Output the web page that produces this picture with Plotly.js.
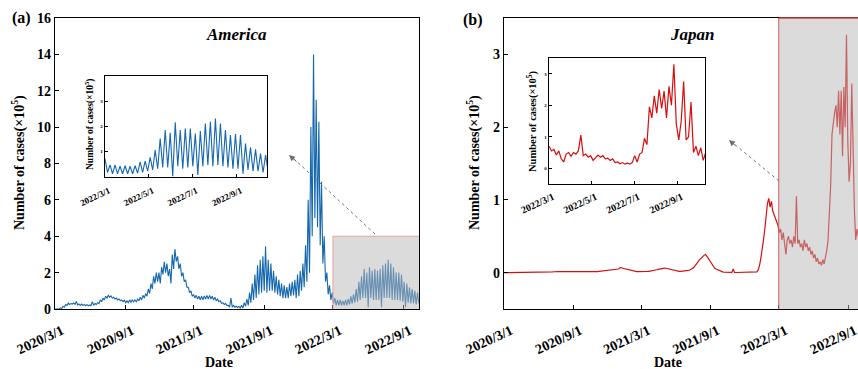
<!DOCTYPE html>
<html>
<head>
<meta charset="utf-8">
<script src="https://cdn.plot.ly/plotly-3.0.1.min.js"></script>
<style>html,body{margin:0;padding:0;background:#fff;}#chart{width:858px;height:369px;}</style>
</head>
<body>
<div id="chart"></div>
<script>
// ---------------- DATA (values in units of 10^5 cases) ----------------
const STEP_DAYS = 3.5;
const americaStart = '2020-03-01';
const americaValues = [
0,0, 0.01,0, 0.05,0.03, 0.15,0.1, 0.25,0.2, 0.32,0.25, 0.3,0.27, 0.33,0.25,
0.42,0.22, 0.28,0.2, 0.27,0.2, 0.25,0.18, 0.24,0.18, 0.22,0.18, 0.4,0.2, 0.3,0.25,
0.35,0.3, 0.5,0.4, 0.6,0.5, 0.7,0.6, 0.75,0.65, 0.72,0.6, 0.65,0.55, 0.6,0.5,
0.55,0.45, 0.5,0.4, 0.48,0.35, 0.45,0.35, 0.5,0.38, 0.5,0.4, 0.5,0.4, 0.55,0.45,
0.65,0.5, 0.75,0.6, 0.85,0.7, 1.1,0.85, 1.4,1.1, 1.8,1.4, 2.0,1.5, 2.0,1.4,
2.3,1.9, 2.6,2.0, 2.5,1.8, 2.2,1.4, 3.0,2.2, 3.3,2.6, 2.9,2.2, 2.5,1.8,
2.0,1.5, 1.6,1.2, 1.2,0.9, 1.0,0.7, 0.8,0.6, 0.75,0.55, 0.7,0.5, 0.7,0.5,
0.72,0.55, 0.75,0.55, 0.75,0.55, 0.7,0.5, 0.65,0.45, 0.55,0.4, 0.45,0.3, 0.35,0.25,
0.3,0.2, 0.2,0.1, 0.6,0.1, 0.2,0.1, 0.15,0.08, 0.15,0.05, 0.2,0.05, 0.35,0.15,
0.55,0.2, 0.9,0.35, 1.4,0.5, 1.9,0.6, 2.4,0.8, 2.7,0.9, 2.9,1.0, 3.45,0.9,
2.7,1.0, 2.5,1.0, 2.1,0.9, 1.8,0.8, 1.6,0.7, 1.4,0.6, 1.3,0.6, 1.2,0.6,
1.4,0.7, 1.5,0.75, 1.6,0.6, 1.9,0.7, 2.1,1.0, 2.5,1.2, 3.5,1.5, 6.0,2.0,
10.0,4.0, 14.0,5.0, 11.5,4.5, 10.3,3.5, 7.0,2.5, 4.0,1.5, 2.0,0.8, 1.3,0.5,
0.9,0.3, 0.6,0.2, 0.5,0.2, 0.5,0.2, 0.45,0.2, 0.5,0.2, 0.55,0.25, 0.7,0.3,
0.8,0.35, 1.1,0.4, 1.5,0.5, 1.8,0.6, 2.2,0.6, 2.0,0.1, 2.3,0.6, 2.1,0.5,
2.2,0.5, 2.1,0.5, 2.2,0.1, 2.4,0.6, 2.5,0.6, 2.7,0.6, 2.5,0.5, 2.3,0.5,
2.0,0.5, 2.0,0.45, 1.9,0.4, 1.5,0.1, 1.4,0.35, 1.2,0.3, 1.1,0.3, 1.0,0.25, 0.9,0.3
];
const americaInsetStart = '2022-03-01';
const americaInsetValues = [
0.7,0.15, 0.45,0.1, 0.45,0.1, 0.4,0.1, 0.42,0.1, 0.4,0.1, 0.42,0.12, 0.57,0.15,
0.6,0.2, 0.75,0.25, 1.04,0.3, 1.5,0.35, 1.84,0.35, 1.73,0.0, 2.15,0.4, 1.84,0.3,
1.9,0.35, 1.9,0.4, 1.7,0.05, 1.8,0.4, 2.1,0.45, 2.17,0.4, 2.3,0.45, 2.1,0.4,
1.84,0.35, 1.64,0.3, 1.68,0.3, 1.64,0.1, 1.3,0.25, 1.15,0.2, 1.07,0.2, 0.9,0.15,
0.84,0.2, 0.5
];
const japanStart = '2020-03-01';
const japanValues = [
0,0,0,0,0,0,0.004,0.005,
0.005,0.006,0.006,0.007,0.006,0.005,0.004,0.003,
0.002,0.001,0.001,0,0,0,0,0,
0,0,0,0,0.001,0.002,0.002,0.003,
0.003,0.004,0.005,0.006,0.008,0.01,0.012,0.015,
0.015,0.014,0.013,0.013,0.012,0.011,0.01,0.009,
0.009,0.008,0.008,0.007,0.006,0.006,0.006,0.006,
0.006,0.006,0.006,0.005,0.005,0.006,0.006,0.006,
0.007,0.007,0.008,0.008,0.009,0.01,0.012,0.015,
0.018,0.02,0.022,0.024,0.025,0.025,0.026,0.027,
0.028,0.03,0.033,0.035,0.038,0.04,0.045,0.05,
0.065,0.07,0.06,0.055,0.05,0.045,0.04,0.035,
0.03,0.025,0.02,0.018,0.016,0.014,0.013,0.012,
0.012,0.012,0.013,0.014,0.015,0.016,0.018,0.02,
0.024,0.028,0.032,0.036,0.04,0.045,0.05,0.053,
0.056,0.06,0.062,0.06,0.055,0.05,0.045,0.04,
0.035,0.03,0.025,0.022,0.02,0.018,0.017,0.018,
0.02,0.022,0.025,0.028,0.032,0.036,0.042,0.055,
0.07,0.09,0.11,0.14,0.17,0.19,0.2,0.22,
0.24,0.25,0.23,0.2,0.17,0.14,0.1,0.08,
0.06,0.05,0.04,0.03,0.02,0.015,0.01,0.008,
0.006,0.005,0.004,0.003,0.003,0.003,0.05,0.002,
0.002,0.002,0.001,0.001,0.001,0.001,0.001,0.001,
0.001,0.001,0.001,0.002,0.002,0.002,0.003,0.004,
0.01,0.04,0.1,0.2,0.3,0.45,0.6,0.8,
0.95,1.02,0.9,0.98,0.85,0.8,0.75,0.7,
0.65,0.55,0.6,0.45,0.55,0.4,0.25,0.45,
0.5,0.4,0.45,0.35,0.5,0.4,1.05,0.4,
0.45,0.35,0.4,0.3,0.45,0.35,0.4,0.3,
0.35,0.25,0.3,0.2,0.25,0.15,0.2,0.12,
0.15,0.1,0.18,0.12,0.2,0.3,0.45,0.75,
1.2,1.9,2.1,2.2,2.3,2.0,2.5,1.9,
2.5,1.6,2.55,2.0,3.27,1.8,1.25,1.5,
2.6,1.5,0.86,0.45,0.6,0.5
];
const japanInsetStart = '2022-03-01';
const japanInsetValues = [
0.7,0.55,0.6,0.42,0.55,0.3,0.2,0.45,
0.5,0.38,0.5,0.45,0.55,1.05,0.4,0.45,
0.35,0.4,0.25,0.35,0.42,0.35,0.4,0.3,
0.32,0.25,0.3,0.18,0.2,0.14,0.18,0.13,
0.16,0.13,0.18,0.4,0.2,0.45,0.5,0.95,
0.75,1.95,1.6,2.3,1.75,2.5,1.9,2.45,
1.6,2.6,2.0,3.3,1.4,0.9,1.5,2.75,
0.9,1.0,2.1,0.5,0.7,0.4,0.65,0.25,0.5
];
const mainTickDates = ['2020-03-01','2020-09-01','2021-03-01','2021-09-01','2022-03-01','2022-09-01'];
const mainTickLabels = ['2020/3/1','2020/9/1','2021/3/1','2021/9/1','2022/3/1','2022/9/1'];
const insetTickDates = ['2022-03-01','2022-05-01','2022-07-01','2022-09-01'];
const insetTickLabels = ['2022/3/1','2022/5/1','2022/7/1','2022/9/1'];
const zoomStart = '2022-03-01';

// ---------------- helpers ----------------
function datesFor(start, n, stepDays) {
  const t0 = Date.parse(start + 'T00:00:00Z');
  const out = [];
  for (let i = 0; i < n; i++) {
    out.push(new Date(t0 + i * stepDays * 86400000).toISOString().slice(0, 16).replace('T', ' '));
  }
  return out;
}
const W = 858, H = 369;
const px = v => v / W, py = v => 1 - v / H;

const FONT = '"Liberation Serif", "Times New Roman", serif';
const BLUE = 'rgb(22,104,174)';
const RED = 'rgb(214,14,14)';

const traces = [
  {x: datesFor(americaStart, americaValues.length, STEP_DAYS), y: americaValues, xaxis: 'x', yaxis: 'y',
   type: 'scatter', mode: 'lines', line: {color: BLUE, width: 1.1}, hoverinfo: 'skip'},
  {x: datesFor(americaInsetStart, americaInsetValues.length, STEP_DAYS), y: americaInsetValues, xaxis: 'x2', yaxis: 'y2',
   type: 'scatter', mode: 'lines', line: {color: BLUE, width: 1.1}, hoverinfo: 'skip'},
  {x: datesFor(japanStart, japanValues.length, STEP_DAYS), y: japanValues, xaxis: 'x3', yaxis: 'y3',
   type: 'scatter', mode: 'lines', line: {color: RED, width: 1.2}, hoverinfo: 'skip'},
  {x: datesFor(japanInsetStart, japanInsetValues.length, STEP_DAYS), y: japanInsetValues, xaxis: 'x4', yaxis: 'y4',
   type: 'scatter', mode: 'lines', line: {color: RED, width: 1.2}, hoverinfo: 'skip'}
];

const axBase = {showgrid: false, zeroline: false, showline: true, linecolor: '#000', linewidth: 1.3,
  ticks: 'inside', ticklen: 4, tickwidth: 1, tickcolor: '#000', ticklabeloverflow: 'allow'};
const mainTickFont = {family: FONT, size: 14, color: '#000', weight: 'bold'};
const insetXFontL = {family: FONT, size: 9, color: '#000', weight: 'bold'};
const insetXFontR = {family: FONT, size: 10, color: '#000', weight: 'bold'};
const insetYFont = {family: FONT, size: 5, color: '#000', weight: 'bold'};

const LEFT_END = '2022-10-13';
const RIGHT_END = '2022-09-27 14:00';

const layout = {
  width: W, height: H, margin: {l: 0, r: 0, t: 0, b: 0},
  paper_bgcolor: '#fff', plot_bgcolor: 'rgba(0,0,0,0)', showlegend: false,
  xaxis: Object.assign({}, axBase, {domain: [px(55), px(419)], anchor: 'y', type: 'date',
    range: ['2020-03-01', LEFT_END], tickvals: mainTickDates, ticktext: mainTickLabels,
    tickangle: -25, tickfont: mainTickFont, mirror: true, ticklabelstandoff: 7, ticklabelshift: 7}),
  yaxis: Object.assign({}, axBase, {domain: [py(309), py(18)], anchor: 'x', range: [0, 16],
    tickvals: [0,2,4,6,8,10,12,14,16], tickfont: mainTickFont, mirror: true}),
  xaxis2: Object.assign({}, axBase, {domain: [px(105), px(267)], anchor: 'y2', type: 'date',
    range: ['2022-03-01', LEFT_END], tickvals: insetTickDates, ticktext: insetTickLabels,
    tickangle: -25, tickfont: insetXFontL, mirror: true, ticklen: 3, ticklabelstandoff: 4, ticklabelshift: 4}),
  yaxis2: Object.assign({}, axBase, {domain: [py(177), py(76)], anchor: 'x2', range: [-0.03, 4],
    tickvals: [1,2,3], tickfont: insetYFont, mirror: true, ticklen: 3}),
  xaxis3: Object.assign({}, axBase, {domain: [px(504), 1], anchor: 'y3', type: 'date',
    range: ['2020-03-01', RIGHT_END], tickvals: mainTickDates, ticktext: mainTickLabels,
    tickangle: -25, tickfont: mainTickFont, mirror: true, ticklabelstandoff: 7, ticklabelshift: 7}),
  yaxis3: Object.assign({}, axBase, {domain: [py(309), py(18)], anchor: 'x3', range: [-0.5, 3.5],
    tickvals: [0,1,2,3], tickfont: mainTickFont, mirror: false}),
  xaxis4: Object.assign({}, axBase, {domain: [px(549), px(705)], anchor: 'y4', type: 'date',
    range: ['2022-03-01', '2022-10-10'], tickvals: insetTickDates, ticktext: insetTickLabels,
    tickangle: -25, tickfont: insetXFontR, mirror: true, ticklen: 3, ticklabelstandoff: 2, ticklabelshift: 4}),
  yaxis4: Object.assign({}, axBase, {domain: [py(184), py(58)], anchor: 'x4', range: [-0.5, 3.5],
    tickvals: [0,1,2,3], tickfont: insetYFont, mirror: true, ticklen: 3}),
  shapes: [],
  annotations: []
};

function parseD(s) {
  return Date.parse(s.length > 10 ? s.replace(' ', 'T') + ':00Z' : s + 'T00:00:00Z');
}
function paperXOf(dateStr, axis) {
  const t = parseD(dateStr), a = parseD(axis.range[0]), b = parseD(axis.range[1]);
  return axis.domain[0] + (t - a) / (b - a) * (axis.domain[1] - axis.domain[0]);
}

const OVERLAY = 'rgba(184,184,184,0.5)';
layout.shapes.push(
  {type: 'rect', xref: 'x', yref: 'y', x0: zoomStart, x1: '2022-11-30', y0: -0.3, y1: 4,
   fillcolor: OVERLAY, line: {color: 'rgb(236,160,160)', width: 1}, layer: 'above'},
  {type: 'rect', xref: 'x3', yref: 'y3', x0: zoomStart, x1: '2022-12-31', y0: -0.6, y1: 3.6,
   fillcolor: OVERLAY, line: {color: 'rgb(210,90,90)', width: 1}, layer: 'above'},
  {type: 'line', xref: 'paper', yref: 'paper', x0: paperXOf(zoomStart, layout.xaxis3), x1: 1,
   y0: layout.yaxis3.domain[1], y1: layout.yaxis3.domain[1], line: {color: 'rgb(205,70,70)', width: 1.6}, layer: 'above'},
  {type: 'line', xref: 'paper', yref: 'paper', x0: px(375), y0: py(234), x1: px(293), y1: py(158),
   line: {color: 'rgb(120,120,120)', width: 1, dash: 'dot'}, layer: 'above'},
  {type: 'line', xref: 'paper', yref: 'paper', x0: px(779), y0: py(181), x1: px(733), y1: py(143),
   line: {color: 'rgb(120,120,120)', width: 1, dash: 'dot'}, layer: 'above'}
);

const bold = (size, extra) => Object.assign({family: FONT, size: size, color: '#000', weight: 'bold'}, extra || {});
const C = {xref: 'paper', yref: 'paper', xanchor: 'center', yanchor: 'middle', showarrow: false};
const ann = layout.annotations;
ann.push(
  {xref: 'paper', yref: 'paper', x: px(289), y: py(155), ax: 9, ay: 8, showarrow: true, arrowhead: 2,
   arrowsize: 1.2, arrowwidth: 1, arrowcolor: 'rgb(110,110,110)', text: ''},
  {xref: 'paper', yref: 'paper', x: px(729), y: py(140), ax: 8, ay: 7, showarrow: true, arrowhead: 2,
   arrowsize: 1.2, arrowwidth: 1, arrowcolor: 'rgb(110,110,110)', text: ''},
  Object.assign({}, C, {x: px(21), y: py(18), text: '(a)', font: bold(16)}),
  Object.assign({}, C, {x: px(473), y: py(20), text: '(b)', font: bold(16)}),
  Object.assign({}, C, {x: px(237), y: py(35), text: 'America', font: bold(17, {style: 'italic'})}),
  Object.assign({}, C, {x: px(692), y: py(34), text: 'Japan', font: bold(17, {style: 'italic'})}),
  Object.assign({}, C, {x: px(219), y: py(362), text: 'Date', font: bold(14)}),
  Object.assign({}, C, {x: px(668), y: py(362), text: 'Date', font: bold(14)}),
  Object.assign({}, C, {x: px(18), y: py(163), textangle: -90, text: 'Number of cases(×10<sup>5</sup>)', font: bold(14)}),
  Object.assign({}, C, {x: px(473), y: py(163), textangle: -90, text: 'Number of cases(×10<sup>5</sup>)', font: bold(14)}),
  Object.assign({}, C, {x: px(90), y: py(125), textangle: -90, text: 'Number of cases(×10<sup>5</sup>)', font: bold(9.5)}),
  Object.assign({}, C, {x: px(532), y: py(121), textangle: -90, text: 'Number of cases(×10<sup>5</sup>)', font: bold(10.5)})
);

Plotly.newPlot('chart', traces, layout, {staticPlot: true, displayModeBar: false});
</script>
</body>
</html>
